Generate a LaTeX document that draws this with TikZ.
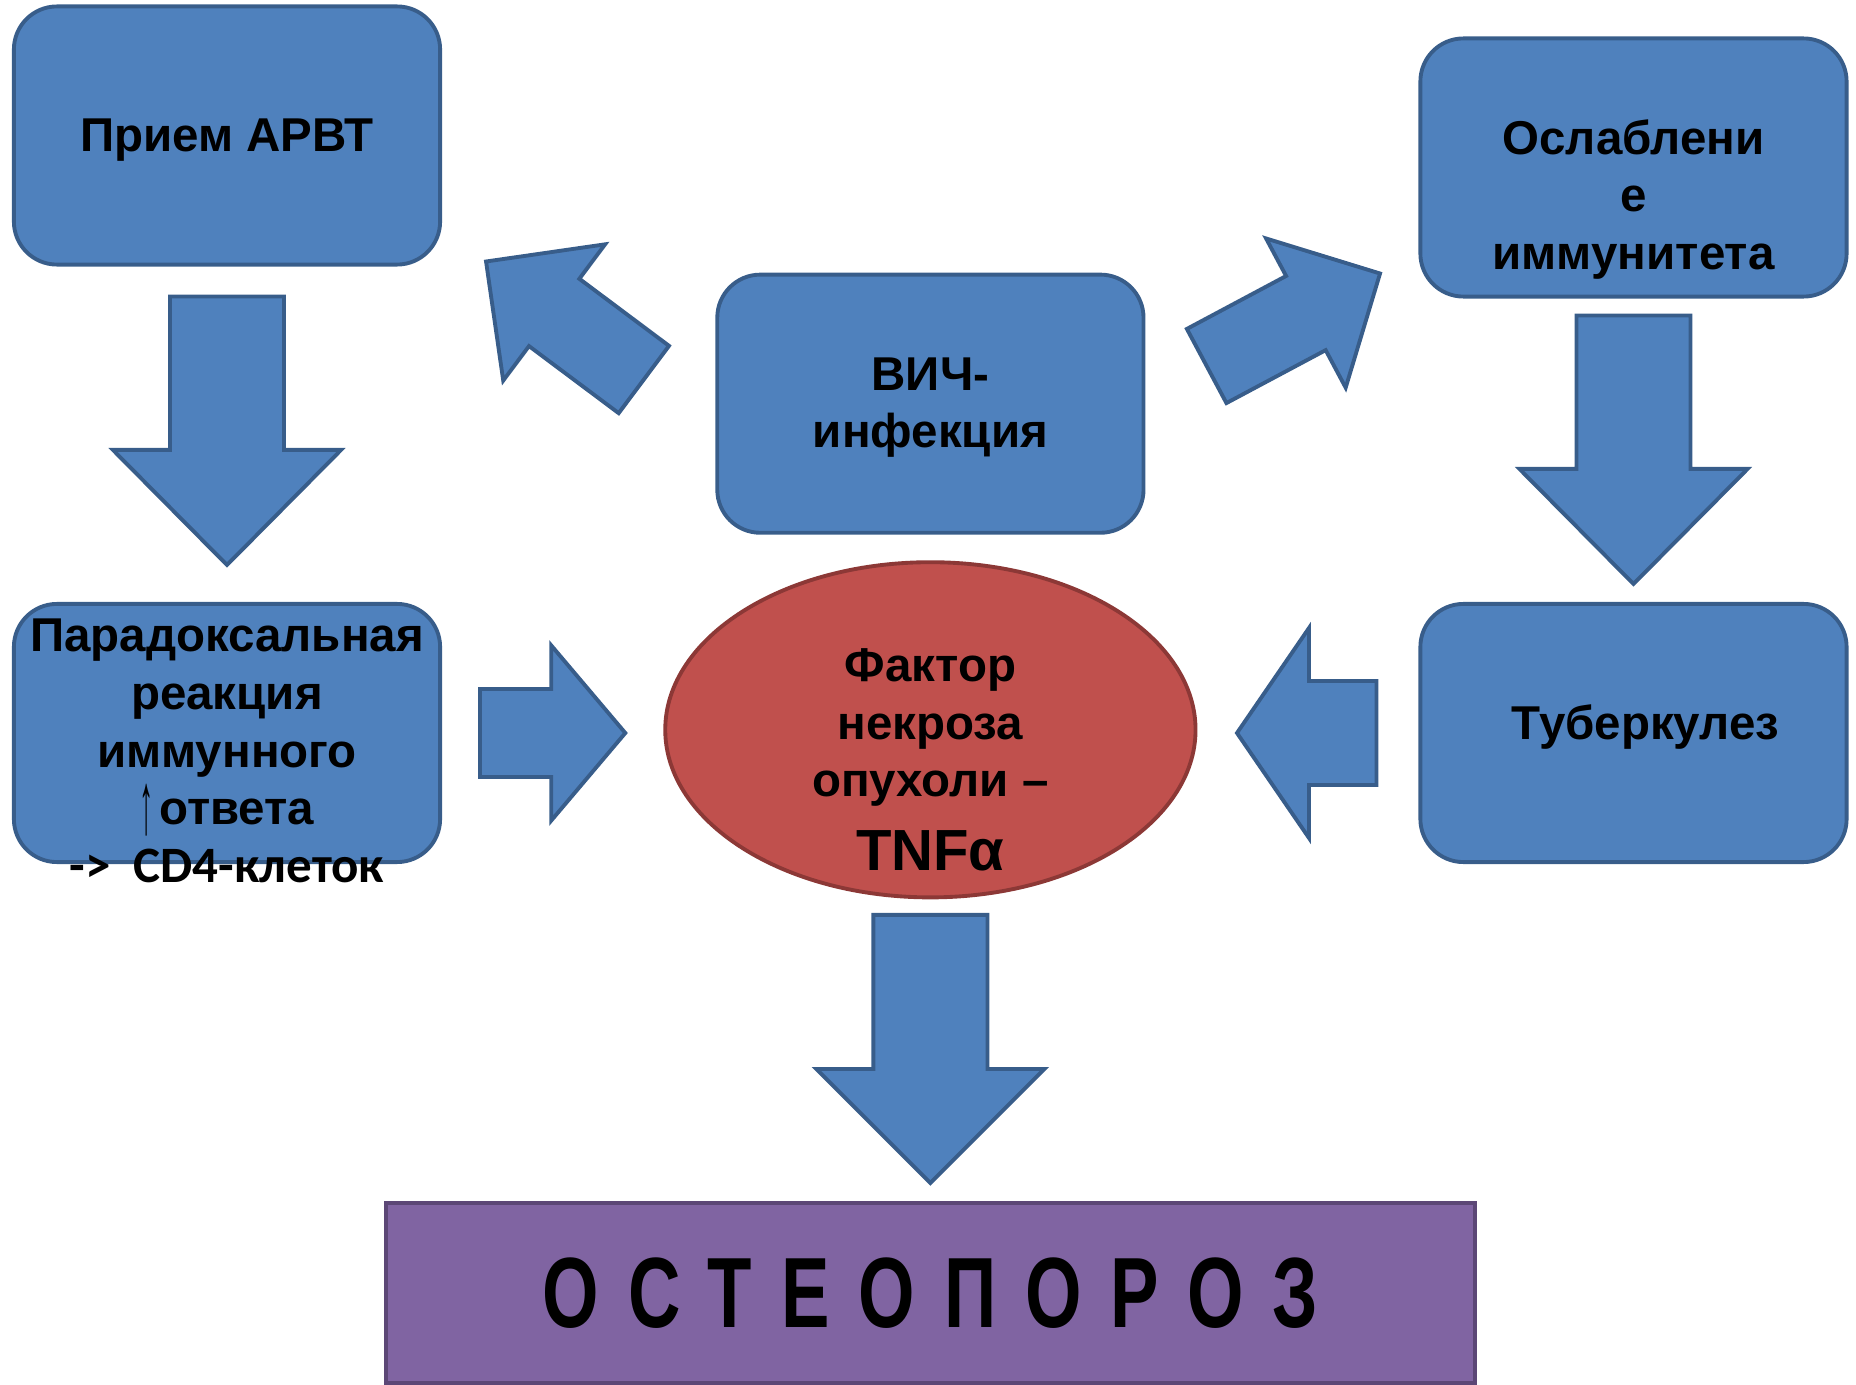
\documentclass[tikz,border=0pt]{standalone}
\usepackage{fontspec}
\setmainfont{Liberation Sans}
\newfontfamily\calfont{Carlito}
\newfontfamily\osteofont[LetterSpace=29,FakeStretch=0.727]{Liberation Sans}
\usepackage{graphicx}
\usepackage{tikz}
\usetikzlibrary{calc,shapes.geometric}
\definecolor{hivblue}{HTML}{4F81BD}
\definecolor{hivline}{HTML}{385D8A}
\definecolor{tnfred}{HTML}{C0504D}
\definecolor{tnfline}{HTML}{8C3836}
\definecolor{osteopurple}{HTML}{8064A2}
\definecolor{osteoline}{HTML}{5C4776}

% start, tip, half shaft, half head, head length
\newcommand{\blockarrow}[5]{%
  \coordinate (neck) at ($(#2)!#5!(#1)$);
  \draw[blockarr] ($(#1)!#3!90:(#2)$) -- ($(neck)!#3!90:(#2)$) -- ($(neck)!#4!90:(#2)$)
    -- (#2) -- ($(neck)!#4!-90:(#2)$) -- ($(neck)!#3!-90:(#2)$) -- ($(#1)!#3!-90:(#2)$) -- cycle;}

\begin{document}
\begin{tikzpicture}[
  x=0.01cm, y=-0.01cm,
  txt/.style={align=center, font=\bfseries\fontsize{13.5}{16.4}\selectfont},
  box/.style={txt, draw=hivline, fill=hivblue, line width=1.1pt, rounded corners=0.43cm,
              minimum width=4.26cm, minimum height=2.58cm, inner sep=0pt},
  tnf/.style={ellipse, draw=tnfline, fill=tnfred, line width=1.1pt,
              minimum width=5.3cm, minimum height=3.35cm, inner sep=0pt},
  osteo/.style={draw=osteoline, fill=osteopurple, line width=1.1pt,
                minimum width=10.89cm, minimum height=1.8cm,
                font=\osteofont\bfseries\fontsize{28.4}{32}\selectfont},
  blockarr/.style={draw=hivline, fill=hivblue, line width=1.1pt}
]
  \useasboundingbox (0,0) rectangle (1856,1385);

  \node[box] (arv) at (227,135.5) {};
  \node[txt] (arvtxt) at ([yshift=-0.05cm]arv.center) {Прием АРВТ};
  \node[box] (para) at (227,733) {};
  \node[txt] (paratxt) at ([yshift=-0.18cm]para.center)
    {Парадоксальная\\реакция\\иммунного\\%
     \smash{\raisebox{-2.4pt}{\scalebox{0.6}[1.85]{\mdseries ↑}}}\hspace{1.5pt}ответа\hspace*{0.58cm}\\%
     {\calfont\fontsize{14.5}{16.4}\selectfont ->\ \ CD4-клеток}};
  \node[box] (hiv) at (930.4,403.7) {};
  \node[txt] (hivtxt) at ([yshift=-0.04cm]hiv.center) {ВИЧ-\\инфекция};
  \node[box] (weak) at (1633.5,167.5) {};
  \node[txt] (weaktxt) at ([yshift=-0.32cm]weak.center) {Ослаблени\\е\\иммунитета};
  \node[box] (tb) at (1633.5,733) {};
  \node[txt] (tbtxt) at ([xshift=0.12cm,yshift=0.06cm]tb.center) {Туберкулез};
  \node[tnf] (tnf) at (930.4,729.8) {};
  \node[txt] (tnftxt) at ([yshift=-0.3cm]tnf.center)
    {Фактор\\некроза\\опухоли –\\[4.6pt]{\fontsize{16.5}{20}\selectfont TNFα}};
  \node[osteo] (osteo) at (930.4,1293) {ОСТЕОПОРОЗ};

  \coordinate (arvS) at ($(arv.south)+(0,30)$);
  \coordinate (arvT) at ($(para.north)+(0,-37)$);
  \coordinate (weakS) at ($(weak.south)+(0,17)$);
  \coordinate (weakT) at ($(tb.north)+(0,-18)$);
  \coordinate (tnfS) at ($(tnf.south)+(0,15.5)$);
  \coordinate (tnfT) at ($(osteo.north)+(0,-18)$);
  \coordinate (paraS) at ($(para.east)+(38,0)$);
  \coordinate (paraT) at ($(tnf.west |- para.east)+(-38,0)$);
  \coordinate (tbS) at ($(tb.west)+(-42,0)$);
  \coordinate (tbT) at ($(tnf.east |- tb.west)+(39.5,0)$);
  \coordinate (hivlS) at ($(hiv.west)+(-71.5,-24.2)$);
  \coordinate (hivlT) at ($(arv.south east)+(44,-5)$);
  \coordinate (hivrS) at ($(hiv.east)+(61.2,-37.7)$);
  \coordinate (hivrT) at ($(weak.south west)+(-38.4,-25)$);

  \blockarrow{arvS}{arvT}{0.57cm}{1.14cm}{1.15cm}
  \blockarrow{weakS}{weakT}{0.57cm}{1.14cm}{1.15cm}
  \blockarrow{tnfS}{tnfT}{0.57cm}{1.14cm}{1.14cm}
  \blockarrow{paraS}{paraT}{0.44cm}{0.875cm}{0.74cm}
  \blockarrow{tbS}{tbT}{0.52cm}{1.05cm}{0.72cm}
  \blockarrow{hivlS}{hivlT}{0.42cm}{0.85cm}{0.85cm}
  \blockarrow{hivrS}{hivrT}{0.42cm}{0.845cm}{0.84cm}
\end{tikzpicture}
\end{document}
